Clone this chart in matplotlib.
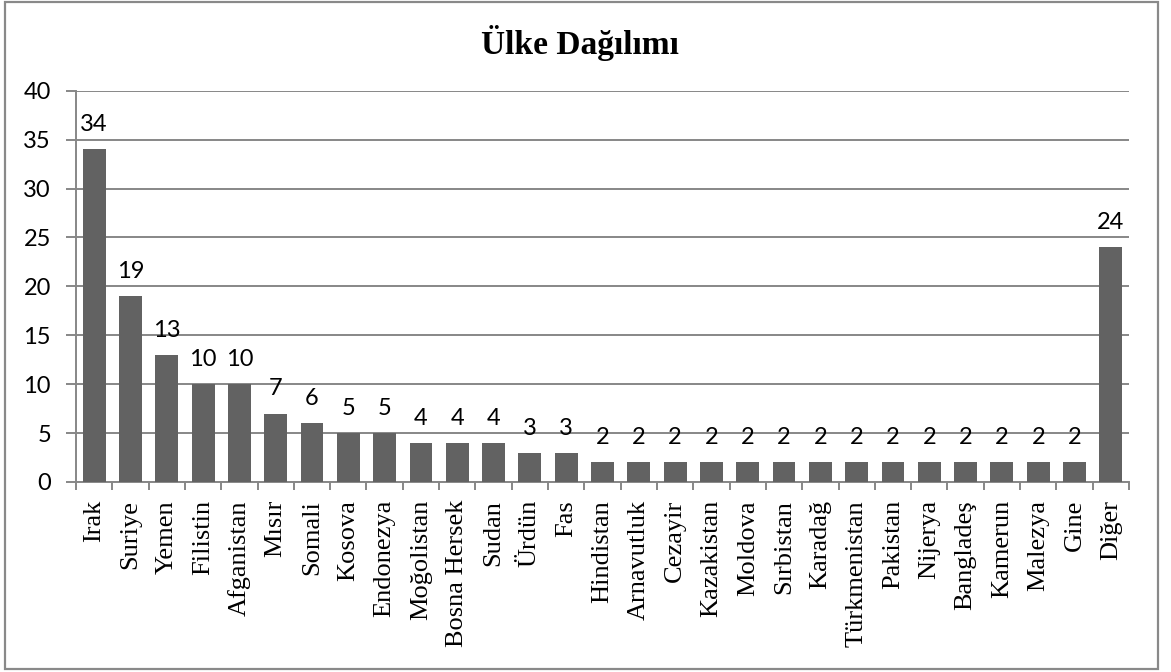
import matplotlib
matplotlib.use("Agg")
import matplotlib.pyplot as plt
from matplotlib.patches import Rectangle

categories = ["Irak", "Suriye", "Yemen", "Filistin", "Afganistan", "Mısır", "Somali",
              "Kosova", "Endonezya", "Moğolistan", "Bosna Hersek", "Sudan", "Ürdün", "Fas",
              "Hindistan", "Arnavutluk", "Cezayir", "Kazakistan", "Moldova", "Sırbistan",
              "Karadağ", "Türkmenistan", "Pakistan", "Nijerya", "Bangladeş", "Kamerun",
              "Malezya", "Gine", "Diğer"]
values = [34, 19, 13, 10, 10, 7, 6, 5, 5, 4, 4, 4, 3, 3,
          2, 2, 2, 2, 2, 2, 2, 2, 2, 2, 2, 2, 2, 2, 24]
yticks = [0, 5, 10, 15, 20, 25, 30, 35, 40]
title = "Ülke Dağılımı"

W, H = 1171, 672
fig = plt.figure(figsize=(W / 100, H / 100), dpi=100)
ax = fig.add_axes([76 / W, 1 - 482 / H, (1129 - 76) / W, (482 - 90.7) / H])

grid_c = "#878787"
bar_c = "#626262"

x = list(range(len(categories)))
ax.bar(x, values, width=0.63, color=bar_c, zorder=3)
ax.set_xlim(-0.5, len(categories) - 0.5)
ax.set_ylim(0, 40)
ax.set_yticks(yticks)
ax.set_yticklabels([str(v) for v in yticks], fontfamily="Lato", fontsize=17)
ax.yaxis.grid(True, color=grid_c, linewidth=1.4, zorder=0)
ax.set_axisbelow(True)

ax.set_xticks([i - 0.5 for i in range(len(categories) + 1)], minor=False)
ax.set_xticklabels([])
ax.set_xticks(x, minor=True)
ax.set_xticklabels(categories, minor=True, rotation=90, fontfamily="Liberation Serif", fontsize=19)
ax.tick_params(axis="x", which="minor", length=0, pad=13)
ax.tick_params(axis="x", which="major", length=6, width=1.4, color=grid_c)
ax.tick_params(axis="y", length=7, width=1.4, color=grid_c, pad=11)

for s in ["top", "right"]:
    ax.spines[s].set_visible(False)
for s in ["left", "bottom"]:
    ax.spines[s].set_color(grid_c)
    ax.spines[s].set_linewidth(1.4)

for xi, v in zip(x, values):
    ax.annotate(str(v), (xi, v), xytext=(0, 13), textcoords="offset points",
                ha="center", va="baseline", fontfamily="Lato", fontsize=17)

fig.text(580 / W, 1 - 54 / H, title, ha="center", va="baseline",
         fontfamily="Liberation Serif", fontweight="bold", fontsize=24)

fig.patches.append(Rectangle((5 / W, 1 - 669 / H), (1158 - 5) / W, (669 - 1.5) / H,
                             transform=fig.transFigure, fill=False,
                             edgecolor="#898989", linewidth=1.6))

fig.savefig("out.png", dpi=100)
